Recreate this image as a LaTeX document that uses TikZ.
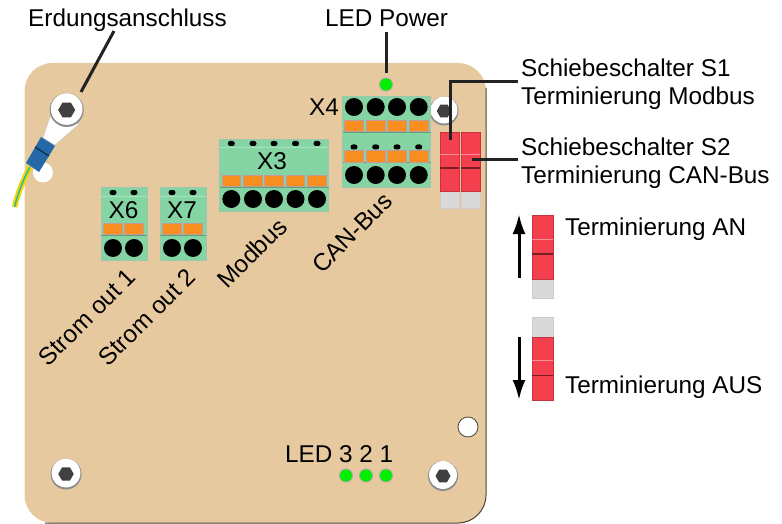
\documentclass[tikz,border=0pt]{standalone}
\usepackage{fontspec}
\setmainfont{Liberation Sans}
\usetikzlibrary{arrows.meta,shapes.geometric}
\definecolor{platine}{HTML}{E7C9A0}
\definecolor{bord}{HTML}{4A4438}
\definecolor{vert}{HTML}{85D5A4}
\definecolor{vertclair}{HTML}{A8E2BE}
\definecolor{vertfonce}{HTML}{5E9E78}
\definecolor{cpalo}{HTML}{F98E20}
\definecolor{rouge}{HTML}{F43F4E}
\definecolor{rougefonce}{HTML}{7A1C24}
\definecolor{rosepale}{HTML}{F98F98}
\definecolor{gris}{HTML}{D9D9D9}
\definecolor{led}{HTML}{00F000}
\definecolor{trait}{HTML}{222222}
\definecolor{bleu}{HTML}{2468A8}
\definecolor{jaune}{HTML}{F2D800}
\definecolor{fil}{HTML}{30B8A0}
% vis : bague blanche + six pans
\newcommand{\vis}[4]{
	\node[screw, fill=black!45, minimum size=#4pt] (#1) at (#2, #3) {};
	\node[screw, fill=white, minimum size=#4*0.93pt] (#1w) at (#2, #3-1) {};
	\node[hexa, minimum size=#4*0.5pt] (#1h) at (#2, #3) {};
}
% curseur : nom, x, haut, largeur, hauteur
\newcommand{\curseur}[5]{
	\node[slider, minimum width=#4pt, minimum height=#5pt, anchor=north] (#1) at (#2, #3) {};
	\draw[rosepale, line width=1pt] (#2-#4/2, #3+#5*0.375) -- (#2+#4/2, #3+#5*0.375);
	\draw[rougefonce, line width=1.2pt] (#2-#4/2, #3+#5*0.61) -- (#2+#4/2, #3+#5*0.61);
}
\begin{document}
\begin{tikzpicture}[x=1pt, y=-1pt, every node/.style={font=\fontsize{24.3}{28}\selectfont, text=black}]
	\tikzset{screw/.style={circle, inner sep=0pt},
		hexa/.style={regular polygon, regular polygon sides=6, inner sep=0pt, fill=black!75},
		hole/.style={circle, inner sep=0pt, fill=white},
		trou/.style={circle, inner sep=0pt, minimum size=18pt, fill=black},
		pin/.style={inner sep=0pt, minimum width=7pt, minimum height=5pt, fill=black, rounded corners=2.4pt},
		block/.style={inner sep=0pt, fill=vert, draw=vertfonce!60, line width=0.6pt},
		spring/.style={inner sep=0pt, minimum width=18.5pt, minimum height=11.5pt, fill=cpalo, draw=rougefonce!45, line width=0.8pt},
		slider/.style={inner sep=0pt, fill=rouge, draw=rouge!80!black, line width=0.5pt},
		foot/.style={inner sep=0pt, fill=gris, draw=black!20, line width=0.5pt},
		ledgreen/.style={circle, inner sep=0pt, minimum size=13pt, fill=led, draw=black!35, line width=0.8pt},
		label/.style={inner sep=0pt, anchor=base west},
		leader/.style={draw=trait, line width=3pt}}
	\useasboundingbox (0, 0) rectangle (782, 524);

	% PLATINE
	\fill[platine, rounded corners=28pt] (24.5, 63) rectangle (486, 523);
	\draw[bord, line width=1pt, rounded corners=28pt] (486, 88) -- (486, 523) -- (45, 523);

	% TROUS ET VIS
	\node[hole, minimum size=20pt] (H1) at (43, 172.5) {};
	\node[hole, minimum size=20pt, draw=bord, line width=0.8pt] (H2) at (468, 427) {};
	\vis{V2}{444}{111}{29}
	\vis{V3}{66}{474}{31}
	\vis{V4}{443}{476}{30}

	% COSSE
	\draw[jaune, line width=5.5pt] (30, 167) .. controls (23, 180) and (18, 193) .. (14.5, 207);
	\draw[fil, line width=1.5pt] (30, 167) .. controls (23, 180) and (18, 193) .. (14.5, 207);
	\fill[white, draw=black!20, line width=0.5pt] (43, 138) -- (50, 117) -- (79, 124) -- (55, 145) -- cycle;
	\fill[bleu] (41, 137) -- (55, 146) -- (39, 172) -- (26, 163) -- cycle;
	\draw[black!70!bleu, line width=1pt] (35, 147) -- (49, 156);
	\vis{V1}{66.7}{110}{34}

	% BORNES
	\node[block, minimum width=46pt, minimum height=73pt] (X6) at (124, 223.5) {};
	\node[block, minimum width=46pt, minimum height=73pt] (X7) at (183, 223.5) {};
	\node[block, minimum width=109pt, minimum height=72pt] (X3) at (274, 175) {};
	\node[block, minimum width=88pt, minimum height=91pt] (X4) at (386.7, 141.5) {};
	\draw[vertclair, line width=0.8pt] (101, 196) -- (147, 196);
	\draw[vertclair, line width=0.8pt] (160, 196) -- (206, 196);
	\draw[vertclair, line width=0.8pt] (219.5, 147) -- (328.5, 147);
	\draw[vertfonce, line width=0.6pt] (101, 235) -- (147, 235);
	\draw[vertfonce, line width=0.6pt] (160, 235) -- (206, 235);
	\draw[vertfonce, line width=0.6pt] (219.5, 187) -- (328.5, 187);
	\draw[vertfonce, line width=0.6pt] (343, 132) -- (431, 132);
	\draw[vertfonce, line width=0.6pt] (343, 162) -- (431, 162);
	\foreach \n/\px in {a/113, b/134}{
		\node[pin] (P6\n) at (\px, 192.5) {};
		\node[spring] (S6\n) at (\px, 229) {};
		\node[trou] (C6\n) at (\px, 248) {};
	}
	\foreach \n/\px in {a/172, b/193}{
		\node[pin] (P7\n) at (\px, 192.5) {};
		\node[spring] (S7\n) at (\px, 229) {};
		\node[trou] (C7\n) at (\px, 248) {};
	}
	\foreach \n/\px in {a/231.3, b/253, c/274, d/295.5, e/317}{
		\node[pin] (P3\n) at (\px, 143.5) {};
		\node[spring] (S3\n) at (\px, 181) {};
		\node[trou] (C3\n) at (\px, 199) {};
	}
	\foreach \n/\px in {a/354, b/375.7, c/397, d/418.7}{
		\node[trou] (C4\n) at (\px, 107) {};
		\node[spring] (S4\n) at (\px, 126) {};
		\node[pin] (P4\n) at (\px, 147) {};
		\node[spring] (T4\n) at (\px, 156.5) {};
		\node[trou] (D4\n) at (\px, 175) {};
	}
	\node (LX6) at (123.5, 210) {X6};
	\node (LX7) at (182, 210) {X7};
	\node (LX3) at (272, 161) {X3};
	\node (LX4) at (324, 107) {X4};

	% INTERRUPTEURS
	\node[foot, minimum width=19pt, minimum height=18pt, anchor=north] (S1f) at (449.5, 190) {};
	\node[foot, minimum width=19pt, minimum height=18pt, anchor=north] (S2f) at (470.5, 190) {};
	\curseur{S1}{449.5}{132}{19}{59}
	\curseur{S2}{470.5}{132}{19}{59}

	% LEDS
	\node[ledgreen] (LP) at (386, 84.5) {};
	\node[ledgreen] (L3) at (346, 475.5) {};
	\node[ledgreen] (L2) at (366, 475.5) {};
	\node[ledgreen] (L1) at (386, 475.5) {};

	% ETIQUETTES
	\node[label] (lErde) at (28, 27) {Erdungsanschluss};
	\node[label] (lPower) at (325, 27) {LED Power};
	\node[inner sep=0pt, anchor=west, align=left] (lS1) at (521, 84.5) {Schiebeschalter S1\\Terminierung Modbus};
	\node[inner sep=0pt, anchor=west, align=left] (lS2) at (521, 163.5) {Schiebeschalter S2\\Terminierung CAN-Bus};
	\node[label] (lLED) at (285, 462) {LED 3 2 1};
	\node[label] (lAN) at (565, 235) {Terminierung AN};
	\node[label] (lAUS) at (565, 393) {Terminierung AUS};
	\node[rotate=45] (lO1) at (87, 317) {Strom out 1};
	\node[rotate=45] (lO2) at (147, 317) {Strom out 2};
	\node[rotate=45] (lMod) at (252, 253) {Modbus};
	\node[rotate=45] (lCAN) at (352, 233) {CAN-Bus};

	% FILS DE REPERE
	\coordinate (cErde) at (114, 31);
	\coordinate (cLug) at (81, 92);
	\coordinate (cS1) at (450.5, 140);
	\coordinate (cS2) at (472, 159.5);
	\draw[leader] (cErde) -- (cLug);
	\draw[leader, shorten >=5pt] ([yshift=-5pt]lPower.south -| LP) -- (LP.north);
	\draw[leader, shorten >=3pt] (cS1) |- ([yshift=3pt]lS1.west);
	\draw[leader, shorten >=3pt] (cS2) -- (cS2 -| lS2.west);

	% POSITIONS
	\node[foot, minimum width=21pt, minimum height=19pt, anchor=north] (Auf) at (542.5, 279) {};
	\curseur{Su}{542.5}{215}{21}{64}
	\node[foot, minimum width=21pt, minimum height=20pt, anchor=north] (Adf) at (542.5, 317) {};
	\curseur{Sd}{542.5}{337}{21}{63}
	\coordinate (ua) at (519, 278);
	\coordinate (ub) at (519, 214);
	\coordinate (da) at (519, 337);
	\coordinate (db) at (519, 400);
	\draw[-{Latex[length=20pt, width=13pt]}, line width=3pt, draw=black] (ua) -- (ub);
	\draw[-{Latex[length=20pt, width=13pt]}, line width=3pt, draw=black] (da) -- (db);
\end{tikzpicture}
\end{document}
